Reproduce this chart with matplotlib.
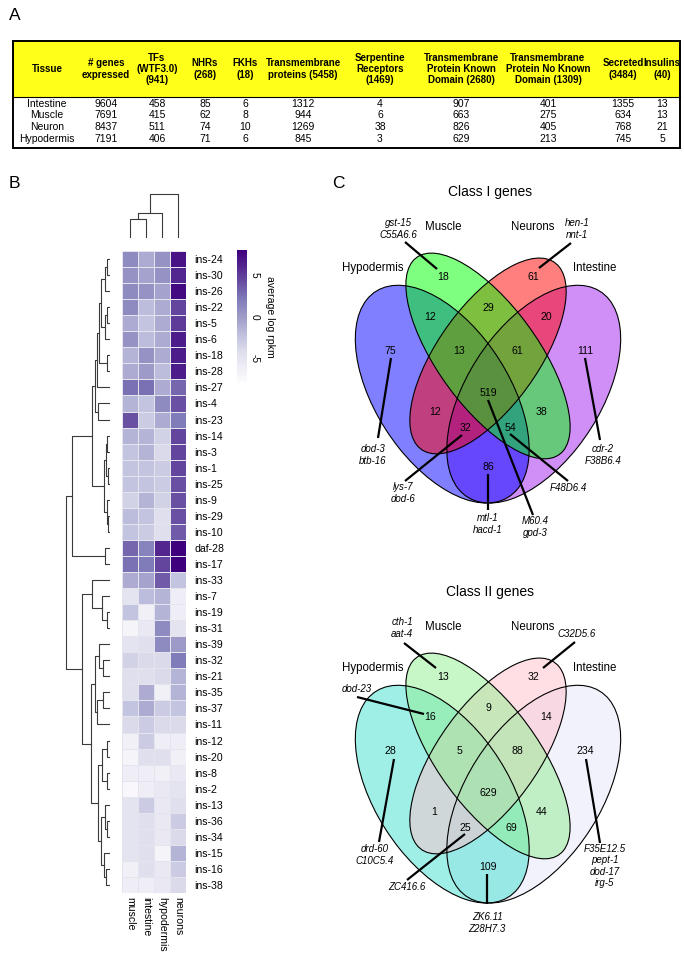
import numpy as np
import matplotlib
matplotlib.use("Agg")
import matplotlib.pyplot as plt
from matplotlib.patches import Ellipse, Rectangle

W, H = 684, 959
plt.rcParams["font.family"] = ["Liberation Sans", "DejaVu Sans"]

# ---------------- panel A : table ----------------
table_headers = ["Tissue", "# genes\nexpressed", "TFs\n(WTF3.0)\n(941)", "NHRs\n(268)",
                 "FKHs\n(18)", "Transmembrane\nproteins (5458)", "Serpentine\nReceptors\n(1469)",
                 "Transmembrane\nProtein Known\nDomain (2680)",
                 "Transmembrane\nProtein No Known\nDomain (1309)", "Secreted\n(3484)",
                 "Insulins\n(40)"]
tissues = ["Intestine", "Muscle", "Neuron", "Hypodermis"]
genes_expressed = [9604, 7691, 8437, 7191]
tfs = [458, 415, 511, 406]
nhrs = [85, 62, 74, 71]
fkhs = [6, 8, 10, 6]
tm_proteins = [1312, 944, 1269, 845]
serpentine = [4, 6, 38, 3]
tm_known = [907, 663, 826, 629]
tm_unknown = [401, 275, 405, 213]
secreted = [1355, 634, 768, 745]
insulins = [13, 13, 21, 5]

# ---------------- panel B : heatmap ----------------
heat_tissues = ["muscle", "intestine", "hypodermis", "neurons"]
insulin_genes = ["ins-24", "ins-30", "ins-26", "ins-22", "ins-5", "ins-6", "ins-18", "ins-28",
                 "ins-27", "ins-4", "ins-23", "ins-14", "ins-3", "ins-1", "ins-25", "ins-9",
                 "ins-29", "ins-10", "daf-28", "ins-17", "ins-33", "ins-7", "ins-19", "ins-31",
                 "ins-39", "ins-32", "ins-21", "ins-35", "ins-37", "ins-11", "ins-12", "ins-20",
                 "ins-8", "ins-2", "ins-13", "ins-36", "ins-34", "ins-15", "ins-16", "ins-38"]
muscle_vals = [1, 0.5, 1, 1, -1, 0.5, -1.5, -1, 2.5, -1.5, 4, -1.5, -2.5, -2.5, -2.5, -3.5,
               -2, -2.5, 3, 2.5, -1, -5, -2.5, -7, -5, -3.5, -4.5, -4.5, -2.5, -4, -6.5, -7,
               -6, -7.5, -5, -5, -5, -5, -6.5, -6]
intestine_vals = [-1, -0.5, 0.5, -2, -2.5, -2, 0.5, 0, 2.5, -2.5, -3, -1.5, -1.5, -2.5, -2.5,
                  -1.5, -2.5, -3, 1.5, 2, -0.5, -2, -6.5, -5.5, -4.5, -4, -4.5, -1, -1, -3,
                  -3, -4.5, -6, -6, -3, -4.5, -4.5, -4.5, -4.5, -6]
hypodermis_vals = [0.5, 0.5, -0.5, -1, -1, -1, -1, -2, -1, 1, -1, -3.5, -4, -3, -3, -3.5,
                   -4.5, -4.5, 6, 4.5, 3.5, -1.5, -1.5, 1, 1, -4, -4, -6.5, -3, -4, -6, -4.5,
                   -6.5, -5.5, -5.5, -5.5, -5.5, -7, -5.5, -5.5]
neurons_vals = [7, 6, 7.5, 4.5, 5, 6.5, 6.5, 6.5, 3, 4, 2, 4.5, 4.5, 4.5, 4, 4, 4, 3.5, 8, 8,
                -2.5, -6, -6, -5, 0, 2, -1.5, -1.5, -2.5, -4, -6, -6.5, -5.5, -5, -4.5, -3,
                -4, -1.5, -3, -4]

# dendrograms: (left, right, merge height)
col_tree = ((("muscle", "intestine", 19), "hypodermis", 25), "neurons", 44)
top_a = ((("ins-24", "ins-30", 3), "ins-26", 5), (("ins-22", "ins-5", 3), "ins-6", 5), 9)
top_b = ((top_a, ("ins-18", "ins-28", 3), 11), "ins-27", 13)
top_c = (top_b, ("ins-4", "ins-23", 12), 15)
mid = ((("ins-14", "ins-3", 3), ("ins-1", "ins-25", 2), 4),
       ("ins-9", ("ins-29", "ins-10", 2), 3), 6)
upper = ((top_c, mid, 18), ("daf-28", "ins-17", 5), 38)
low_a = ("ins-33", ("ins-7", ("ins-19", "ins-31", 3), 8), 18)
low_b = (("ins-39", ("ins-32", "ins-21", 7), 11), (("ins-35", "ins-37", 7), "ins-11", 13), 15)
low_c = ((("ins-12", "ins-20", 3), ("ins-8", "ins-2", 3), 8),
         (("ins-13", ("ins-36", "ins-34", 3), 5), ("ins-15", ("ins-16", "ins-38", 4), 6), 9), 12)
lower = (low_a, (low_b, low_c, 19), 28)
row_tree = (upper, lower, 44)

# ---------------- panel C : venn diagrams ----------------
venn_regions = ["H", "M", "N", "I", "HM", "MN", "NI", "HMN", "MNI", "HMNI", "HN", "MI",
                "HNI", "HMI", "HI"]
class1_counts = [75, 18, 61, 111, 12, 29, 20, 13, 61, 519, 12, 38, 32, 54, 86]
class2_counts = [28, 13, 32, 234, 16, 9, 14, 5, 88, 629, 1, 44, 25, 69, 109]
class1_genes = ["gst-15\nC55A6.6", "hen-1\nnnt-1", "dod-3\nbtb-16", "cdr-2\nF38B6.4",
                "lys-7\ndod-6", "F48D6.4", "M60.4\ngpd-3", "mtl-1\nhacd-1"]
class2_genes = ["cth-1\naat-4", "C32D5.6", "dod-23", "drd-60\nC10C5.4",
                "F35E12.5\npept-1\ndod-17\nirg-5", "ZC416.6", "ZK6.11\nZ28H7.3"]

fig = plt.figure(figsize=(W / 100, H / 100), dpi=100)


def px_axes(x0, y0, x1, y1, **kw):
    return fig.add_axes([x0 / W, 1 - y1 / H, (x1 - x0) / W, (y1 - y0) / H], **kw)


canvas = px_axes(0, 0, W, H)
canvas.set_xlim(0, W)
canvas.set_ylim(H, 0)
canvas.axis("off")
canvas.set_zorder(10)
canvas.patch.set_alpha(0)

for lab, x, y in [("A", 15, 15), ("B", 14, 183), ("C", 338, 183)]:
    canvas.text(x, y, lab, fontsize=12.5, ha="center", va="center")

# ---- table
col_x = [47, 106, 157, 205, 245, 303, 380, 461, 548, 623, 662]
row_y = [104, 115.5, 127, 138.5]
canvas.add_patch(Rectangle((13, 41), 667, 56, facecolor="#ffff1a", edgecolor="none"))
canvas.add_patch(Rectangle((13, 41), 667, 107, facecolor="none", edgecolor="black", lw=1.4))
canvas.plot([13, 680], [97, 97], color="black", lw=0.8)
for x, s in zip(col_x, table_headers):
    canvas.text(x, 69, s, ha="center", va="center", fontsize=7.0, fontweight="bold",
                linespacing=1.15)
table_columns = [tissues, genes_expressed, tfs, nhrs, fkhs, tm_proteins, serpentine,
                 tm_known, tm_unknown, secreted, insulins]
for x, col in zip(col_x, table_columns):
    for y, v in zip(row_y, col):
        canvas.text(x, y, str(v), ha="center", va="center", fontsize=7.5)

# ---- heatmap
data = np.column_stack([muscle_vals, intestine_vals, hypodermis_vals, neurons_vals])
hax = px_axes(122, 251, 186, 893)
mesh = hax.pcolormesh(data, cmap="Purples", vmin=-8, vmax=8, edgecolors="#e4e4ee",
                      linewidth=0.6)
hax.set_ylim(len(insulin_genes), 0)
hax.set_xlim(0, 4)
hax.set_yticks(np.arange(len(insulin_genes)) + 0.5)
hax.set_yticklabels(insulin_genes, fontsize=7.6)
hax.yaxis.tick_right()
hax.set_xticks(np.arange(4) + 0.5)
hax.set_xticklabels(heat_tissues, rotation=-90, fontsize=7.6, va="top")
hax.tick_params(length=0, pad=6)
hax.tick_params(axis="x", pad=3)
for s in hax.spines.values():
    s.set_visible(False)

cax = px_axes(237, 250, 247, 383)
cb = fig.colorbar(mesh, cax=cax, ticks=[-5, 0, 5])
cb.outline.set_visible(False)
cax.tick_params(length=0, pad=2)
cax.set_yticklabels(["-5", "0", "5"], rotation=-90, va="center", fontsize=7.3)
cb.set_label("average log rpkm", rotation=-90, fontsize=7.6, labelpad=11)


def dendro(node, pos, segs):
    if isinstance(node, str):
        return pos[node], 0.0
    a, b, h = node
    pa, ha = dendro(a, pos, segs)
    pb, hb = dendro(b, pos, segs)
    segs.append(([pa, pa, pb, pb], [ha, h, h, hb]))
    return (pa + pb) / 2, h


# row dendrogram
rax = px_axes(60, 251, 110, 893)
segs = []
dendro(row_tree, {g: i + 0.5 for i, g in enumerate(insulin_genes)}, segs)
for p, h in segs:
    rax.plot(h, p, color="#3a3a3a", lw=0.8)
rax.set_xlim(50, 0)
rax.set_ylim(len(insulin_genes), 0)
rax.axis("off")

# column dendrogram
dax = px_axes(122, 190, 186, 238)
segs = []
dendro(col_tree, {t: i + 0.5 for i, t in enumerate(heat_tissues)}, segs)
for p, h in segs:
    dax.plot(p, h, color="#3a3a3a", lw=0.8)
dax.set_xlim(0, 4)
dax.set_ylim(0, 48)
dax.axis("off")

# ---- venn diagrams
# ellipse template (centre x, centre y, semi-major, semi-minor, angle)
venn_shapes = {"H": (0.35, 0.47, 0.35, 0.20, 135), "M": (0.50, 0.57, 0.35, 0.15, 135),
               "N": (0.50, 0.57, 0.33, 0.15, 45), "I": (0.65, 0.47, 0.35, 0.20, 45)}
region_xy = {"H": (0.18, 0.583), "M": (0.352, 0.777), "N": (0.648, 0.777), "I": (0.82, 0.583),
             "HM": (0.31, 0.672), "MN": (0.5, 0.696), "NI": (0.69, 0.672),
             "HMN": (0.405, 0.583), "MNI": (0.595, 0.583), "HMNI": (0.5, 0.473),
             "HN": (0.325, 0.423), "MI": (0.675, 0.423), "HNI": (0.425, 0.381),
             "HMI": (0.575, 0.381), "HI": (0.5, 0.279)}
draw_order = ["I", "H", "N", "M"]


def venn(dy, colors, counts, title):
    vx = px_axes(335.5, 229.9 + dy, 640.5, 516.4 + dy)
    vx.set_xlim(0, 1)
    vx.set_ylim(0.15, 0.9)
    vx.axis("off")
    for k in draw_order:
        cx, cy, a, b, ang = venn_shapes[k]
        vx.add_patch(Ellipse((cx, cy), 2 * a, 2 * b, angle=ang, facecolor=colors[k],
                             alpha=0.5, edgecolor="none"))
    for k in draw_order:
        cx, cy, a, b, ang = venn_shapes[k]
        vx.add_patch(Ellipse((cx, cy), 2 * a, 2 * b, angle=ang, facecolor="none",
                             edgecolor="black", lw=0.8))
    for r, n in zip(venn_regions, counts):
        vx.text(*region_xy[r], str(n), ha="center", va="center", fontsize=7.6)
    canvas.text(490, 192 + dy, title, ha="center", va="center", fontsize=10)
    for s, x, y in [("Muscle", 443, 227), ("Neurons", 533, 227), ("Hypodermis", 373, 268),
                    ("Intestine", 595, 268)]:
        canvas.text(x, y + dy, s, ha="center", va="center", fontsize=8.3)


def callout(text, tx, ty, line, va="center"):
    canvas.text(tx, ty, text, ha="center", va=va, fontsize=7, style="italic",
                linespacing=1.2)
    canvas.plot(line[0], line[1], color="black", lw=1.6, solid_capstyle="butt")


venn(0, {"H": "#0000ff", "M": "#00ff00", "N": "#ff0000", "I": "#a020f0"},
     class1_counts, "Class I genes")
c1_layout = [(398, 229, ([405, 437], [242, 269])), (577, 229, ([571, 539], [243, 268])),
             (373, 455, ([391, 378], [358, 438])), (603, 455, ([585, 600], [358, 440])),
             (403, 493, ([462, 405], [435, 481])), (568, 488, ([510, 568], [434, 481])),
             (535, 527, ([488, 533], [400, 515])), (488, 524, ([488, 488], [474, 510]))]
for g, (tx, ty, ln) in zip(class1_genes, c1_layout):
    callout(g, tx, ty, ln)

venn(400, {"H": "#40e0d0", "M": "#90ee90", "N": "#ffc0cb", "I": "#e6e6fa"},
     class2_counts, "Class II genes")
c2_layout = [(402, 628, ([404, 436], [643, 668])), (577, 634, ([575, 543], [642, 668])),
             (357, 689, ([357, 424], [697, 714])), (375, 855, ([394, 379], [759, 842])),
             (605, 866, ([586, 600], [759, 843])), (407, 887, ([465, 407], [834, 880])),
             (487, 923, ([487, 487], [874, 904]))]
for g, (tx, ty, ln) in zip(class2_genes, c2_layout):
    callout(g, tx, ty, ln)

fig.savefig("out.png", dpi=100)
